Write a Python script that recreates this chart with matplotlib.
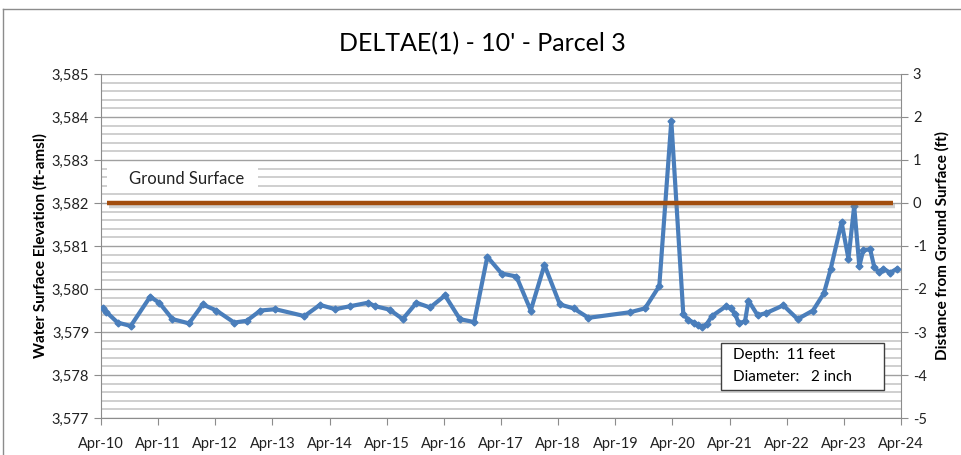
import matplotlib.pyplot as plt
import matplotlib.patheffects as pe
from matplotlib.lines import Line2D
from matplotlib.patches import Rectangle
from matplotlib.ticker import MultipleLocator, FuncFormatter

plt.rcParams['font.family'] = ['Lato', 'DejaVu Sans']
plt.rcParams['axes.unicode_minus'] = False

# days after Apr-10 00:00
days = [0.03, 0.09, 0.29, 0.52, 0.86, 1.02, 1.25, 1.54, 1.78, 2.02,
        2.33, 2.55, 2.79, 3.05, 3.56, 3.83, 4.10, 4.36, 4.67, 4.80,
        5.05, 5.28, 5.52, 5.76, 6.02, 6.28, 6.53, 6.76, 7.01, 7.27,
        7.52, 7.76, 8.03, 8.27, 8.53, 9.26, 9.52, 9.77, 9.98, 10.19,
        10.28, 10.37, 10.45, 10.51, 10.60, 10.69, 10.94, 11.02, 11.10, 11.16,
        11.27, 11.33, 11.49, 11.64, 11.94, 12.19, 12.46, 12.65, 12.77, 12.96,
        13.08, 13.18, 13.27, 13.34, 13.46, 13.53, 13.61, 13.69, 13.81, 13.93]
elev = [3579.55, 3579.47, 3579.22, 3579.14, 3579.82, 3579.68, 3579.30, 3579.20, 3579.64, 3579.50,
        3579.22, 3579.26, 3579.50, 3579.53, 3579.37, 3579.63, 3579.53, 3579.60, 3579.68, 3579.60,
        3579.52, 3579.30, 3579.68, 3579.57, 3579.85, 3579.30, 3579.23, 3580.75, 3580.36, 3580.29,
        3579.50, 3580.56, 3579.64, 3579.55, 3579.33, 3579.46, 3579.55, 3580.07, 3583.91, 3579.41,
        3579.28, 3579.22, 3579.16, 3579.12, 3579.18, 3579.37, 3579.60, 3579.56, 3579.41, 3579.20,
        3579.25, 3579.73, 3579.39, 3579.44, 3579.62, 3579.30, 3579.50, 3579.90, 3580.47, 3581.55,
        3580.70, 3581.93, 3580.53, 3580.91, 3580.92, 3580.52, 3580.39, 3580.47, 3580.38, 3580.47]

ground_days = [0.10, 13.86]
ground_elev = [3582.0, 3582.0]

tick_labels = ['Apr-10', 'Apr-11', 'Apr-12', 'Apr-13', 'Apr-14', 'Apr-15', 'Apr-16', 'Apr-17',
               'Apr-18', 'Apr-19', 'Apr-20', 'Apr-21', 'Apr-22', 'Apr-23', 'Apr-24']

fig = plt.figure(figsize=(9.61, 4.55), dpi=100)
ax = fig.add_axes([0.1051, 0.0813, 0.8325, 0.7561])

ax.set_xlim(0, 14)
ax.set_ylim(3577, 3585)
ax.set_xticks(range(len(tick_labels)))
ax.set_xticklabels(tick_labels)
ax.yaxis.set_major_locator(MultipleLocator(1))
ax.yaxis.set_minor_locator(MultipleLocator(0.2))
ax.yaxis.set_major_formatter(FuncFormatter(lambda v, p: f'{v:,.0f}'))
ax.grid(which='major', axis='y', color='#a0a0a0', lw=1.0)
ax.grid(which='minor', axis='y', color='#cfcfcf', lw=1.4)
ax.set_axisbelow(True)
for s in ax.spines.values():
    s.set_color('#8c8c8c')
ax.spines['top'].set_visible(False)
ax.tick_params(which='major', color='#8c8c8c', length=5, labelsize=10.5, labelcolor='#222222')
ax.tick_params(which='minor', length=0)
ax.tick_params(axis='x', pad=9)

ax.plot(days, elev, color='#4a7ebb', lw=3, marker='D', ms=3.5, zorder=3)
ax.plot(ground_days, ground_elev, color='#a24d0e', lw=3.2, solid_capstyle='butt', zorder=4,
        path_effects=[pe.SimpleLineShadow(offset=(1.5, -2), shadow_color='#808080', alpha=0.35),
                      pe.Normal()])

# white label patch for "Ground Surface"
ax.add_patch(Rectangle((0.105, 3582.23), 2.645, 0.65, facecolor='white', edgecolor='none', zorder=2))
ax.text(0.49, 3582.56, 'Ground Surface', fontsize=12, va='center', ha='left', color='#222222', zorder=5)

# well info box
ax.add_patch(Rectangle((0.775, 0.081), 0.204, 0.137, transform=ax.transAxes, facecolor='white',
                       edgecolor='#404040', lw=1, zorder=5))
ax.text(0.79, 0.183, 'Depth:  11 feet', transform=ax.transAxes, fontsize=11, va='center', zorder=6)
ax.text(0.79, 0.119, 'Diameter:   2 inch', transform=ax.transAxes, fontsize=11, va='center', zorder=6)

ax.set_ylabel('Water Surface Elevation (ft-amsl)', fontsize=11, fontweight='bold', labelpad=3)

ax2 = ax.twinx()
ax2.set_ylim(-5, 3)
ax2.yaxis.set_major_locator(MultipleLocator(1))
for s in ax2.spines.values():
    s.set_visible(False)
ax2.tick_params(color='#8c8c8c', length=5, labelsize=10.5, labelcolor='#222222')
ax2.set_ylabel('Distance from Ground Surface (ft)', fontsize=11, fontweight='bold', labelpad=6)

fig.text(0.5016, 0.905, "DELTAE(1) - 10' - Parcel 3", fontsize=18, ha='center', va='center')

# chart area border
fig.add_artist(Line2D([3 / 961, 3 / 961], [0, 1 - 9 / 455], color='#8c8c8c', lw=1))
fig.add_artist(Line2D([3 / 961, 1], [1 - 9 / 455, 1 - 9 / 455], color='#8c8c8c', lw=1))

fig.savefig('out.png', dpi=100)
